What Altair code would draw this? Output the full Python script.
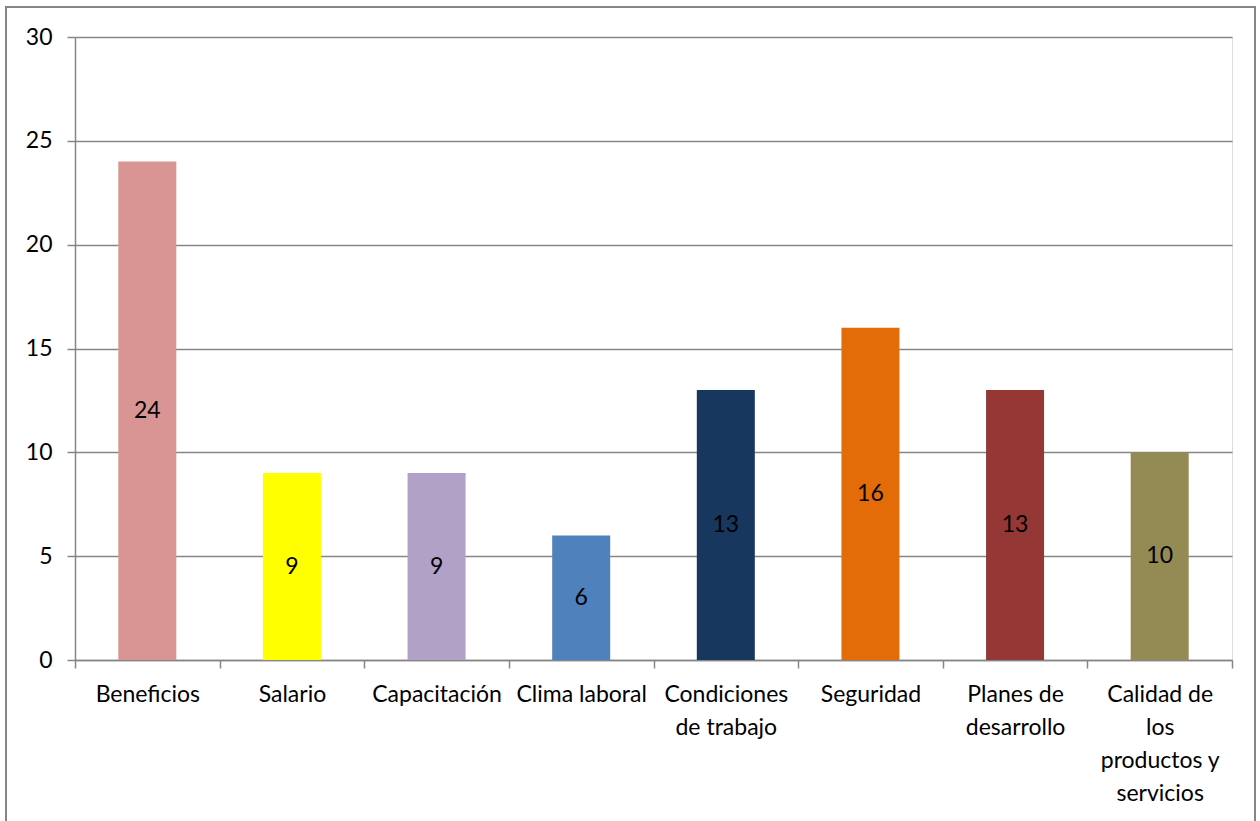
import altair as alt
import pandas as pd

categories = ["Beneficios", "Salario", "Capacitación", "Clima laboral",
              "Condiciones de trabajo", "Seguridad", "Planes de desarrollo",
              "Calidad de los productos y servicios"]
label_lines = [["Beneficios"], ["Salario"], ["Capacitación"], ["Clima laboral"],
               ["Condiciones", "de trabajo"], ["Seguridad"], ["Planes de", "desarrollo"],
               ["Calidad de", "los", "productos y", "servicios"]]
values = [24, 9, 9, 6, 13, 16, 13, 10]
colors = ["#D99594", "#FFFF00", "#B2A1C7", "#4F81BD", "#17375E", "#E36C09", "#953735", "#948A54"]

df = pd.DataFrame({"cat": categories, "value": values, "color": colors})

# label expression for multi-line axis labels
parts = []
for c, lines in zip(categories, label_lines):
    arr = "[" + ",".join("'" + l + "'" for l in lines) + "]"
    parts.append(f"datum.value == '{c}' ? {arr}")
label_expr = " : ".join(parts) + " : datum.label"

FONT = "Lato"
FS = 23
GRAY = "#868686"

x = alt.X("cat:N", sort=categories, title=None,
          scale=alt.Scale(paddingInner=0, paddingOuter=0),
          axis=alt.Axis(labelAngle=0, labelFontSize=FS, labelFont=FONT, labelColor="black",
                        domainColor=GRAY, domainWidth=1.5, tickColor=GRAY, tickWidth=1.5,
                        tickSize=8, tickBand="extent", labelPadding=15, labelBaseline="top",
                        labelLineHeight=33, labelLimit=300, labelOverlap=False,
                        labelBound=False, labelExpr=label_expr))
y_axis = alt.Axis(values=[0, 5, 10, 15, 20, 25, 30], labelFontSize=FS, labelFont=FONT,
                  labelColor="black", domainColor=GRAY, domainWidth=1.5, tickColor=GRAY,
                  tickWidth=1.5, tickSize=8, gridColor=GRAY, gridWidth=1.5, labelPadding=15)

bars = alt.Chart(df).mark_bar(size=58).encode(
    x=x,
    y=alt.Y("value:Q", title=None, scale=alt.Scale(domain=[0, 30], nice=False), axis=y_axis),
    color=alt.Color("color:N", scale=None),
)

texts = alt.Chart(df).transform_calculate(mid="datum.value / 2").mark_text(
    fontSize=FS, font=FONT, color="black", baseline="middle"
).encode(x=alt.X("cat:N", sort=categories), y=alt.Y("mid:Q"), text=alt.Text("value:Q"))

frame = alt.Chart(df).mark_rect(fill=None, stroke=GRAY, strokeWidth=2).encode(
    x=alt.value(-69), x2=alt.value(1180), y=alt.value(-30), y2=alt.value(800)
)

chart = alt.layer(frame, bars, texts).properties(
    width=1157, height=623,
    autosize=alt.AutoSizeParams(type="none"),
    padding={"left": 75, "top": 37, "right": 28, "bottom": 161},
).configure_view(stroke=None).configure(background="white")

chart.save("out.html", embed_options={"renderer": "svg", "actions": False})
